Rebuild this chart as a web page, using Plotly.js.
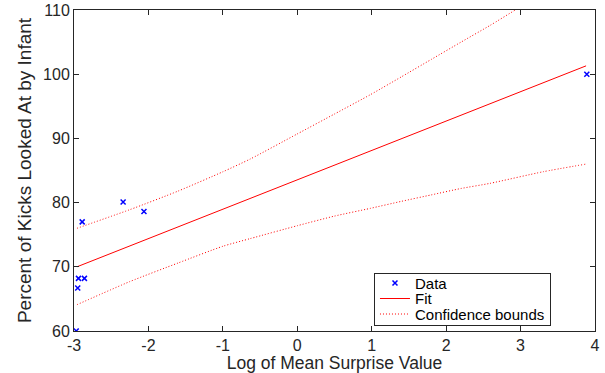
<!DOCTYPE html>
<html>
<head>
<meta charset="utf-8">
<script src="https://cdn.plot.ly/plotly-3.0.1.min.js"></script>
<style>html,body{margin:0;padding:0;background:#fff;}#chart{width:605px;height:373px;}</style>
</head>
<body>
<div id="chart"></div>
<script>
// Observed data
const dataX = [-2.97, -2.95, -2.94, -2.86, -2.89, -2.34, -2.06, 3.89];
const dataY = [60.0, 66.7, 68.2, 68.2, 77.0, 80.1, 78.6, 100.0];

// Fitted line (read at its ends)
const fitX = [-2.96, 3.88];
const fitY = [70.0, 101.3];

// Confidence bounds
const upperX = [-2.96, -2.25, -1.6, -1.0, -0.63, 0.0, 0.5, 0.98, 1.4, 1.8, 2.2, 2.59, 2.93, 3.3, 3.88];
const upperY = [76.0, 78.9, 81.8, 84.8, 86.8, 90.7, 93.8, 96.8, 99.6, 102.3, 105.0, 107.6, 110.0, 112.4, 116.6];
const lowerX = [-2.96, -2.25, -1.6, -1.0, -0.63, 0.0, 0.5, 0.98, 1.4, 1.8, 2.2, 2.59, 3.3, 3.88];
const lowerY = [64.1, 67.7, 70.6, 73.2, 74.4, 76.4, 77.9, 79.1, 80.2, 81.2, 82.2, 83.0, 84.8, 86.0];

const xTicks = [-3, -2, -1, 0, 1, 2, 3, 4];
const yTicks = [60, 70, 80, 90, 100, 110];

const FONT = 'Liberation Sans, Arial, Helvetica, sans-serif';
const INK = '#262626';

const traces = [
  {x: dataX, y: dataY, type: 'scatter', mode: 'markers', name: 'Data',
   marker: {symbol: 'x-thin', size: 5, color: '#0000ff', line: {color: '#0000ff', width: 1.5}}},
  {x: fitX, y: fitY, type: 'scatter', mode: 'lines', name: 'Fit',
   line: {color: '#ff0000', width: 1}},
  {x: upperX, y: upperY, type: 'scatter', mode: 'lines', name: 'Confidence bounds',
   line: {color: '#ff0000', width: 1, dash: '1px,2px', shape: 'spline', smoothing: 0.6}},
  {x: lowerX, y: lowerY, type: 'scatter', mode: 'lines', name: 'Confidence bounds',
   line: {color: '#ff0000', width: 1, dash: '1px,2px', shape: 'spline', smoothing: 0.6}, showlegend: false}
];

const axisCommon = {
  showline: true, linecolor: INK, linewidth: 1, mirror: 'ticks',
  ticks: 'inside', ticklen: 5, tickcolor: INK, tickwidth: 1,
  showgrid: false, zeroline: false,
  tickfont: {family: FONT, size: 16, color: INK}
};

const layout = {
  width: 605, height: 373,
  margin: {l: 74, r: 10, t: 10, b: 42},
  paper_bgcolor: '#ffffff', plot_bgcolor: '#ffffff',
  showlegend: true,
  xaxis: Object.assign({}, axisCommon, {
    range: [-3, 4], tickvals: xTicks, ticktext: xTicks.map(String),
    title: {text: 'Log of Mean Surprise Value', font: {family: FONT, size: 17.5, color: INK}, standoff: 1}
  }),
  yaxis: Object.assign({}, axisCommon, {
    range: [60, 110], tickvals: yTicks, ticktext: yTicks.map(String),
    title: {text: 'Percent of Kicks Looked At by Infant', font: {family: FONT, size: 19, color: INK}, standoff: 6}
  }),
  legend: {
    x: 0.9155, y: 0.01, xanchor: 'right', yanchor: 'bottom',
    bgcolor: '#ffffff', bordercolor: INK, borderwidth: 1,
    font: {family: FONT, size: 15, color: '#000000'},
    tracegroupgap: 0, traceorder: 'normal'
  }
};

// Compact the legend rows to MATLAB-like spacing after Plotly draws it.
function compactLegend(gd) {
  const leg = gd.querySelector('.legend');
  if (!leg) return;
  const items = Array.from(leg.querySelectorAll('.traces'));
  if (items.length < 2) return;
  const pitch = 15.5, firstY = 10.5, boxH = 52.5, boxTop = 272.5;
  const parse = el => {
    const m = /translate\(\s*([-\d.e]+)[ ,]+([-\d.e]+)\s*\)/.exec(el.getAttribute('transform') || '');
    return m ? [parseFloat(m[1]), parseFloat(m[2])] : [0, 0];
  };
  items.forEach((el, i) => {
    const p = parse(el);
    el.setAttribute('transform', 'translate(' + p[0] + ',' + (firstY + i * pitch) + ')');
  });
  const bg = leg.querySelector('rect.bg');
  if (bg) bg.setAttribute('height', boxH);
  const lp = parse(leg);
  leg.setAttribute('transform', 'translate(' + lp[0] + ',' + boxTop + ')');
  leg.querySelectorAll('.groups').forEach(g => {
    const gp = parse(g);
    g.setAttribute('transform', 'translate(' + gp[0] + ',0)');
  });
  const sb = leg.querySelector('.scrollbox');
  if (sb) { const sp = parse(sb); sb.setAttribute('transform', 'translate(' + sp[0] + ',0)'); }
  const clip = gd.querySelector('clipPath[id^="legend"] rect, .legendclip rect');
  if (clip) clip.setAttribute('height', boxH);
}

Plotly.newPlot('chart', traces, layout, {displayModeBar: false, staticPlot: true}).then(compactLegend);
</script>
</body>
</html>
